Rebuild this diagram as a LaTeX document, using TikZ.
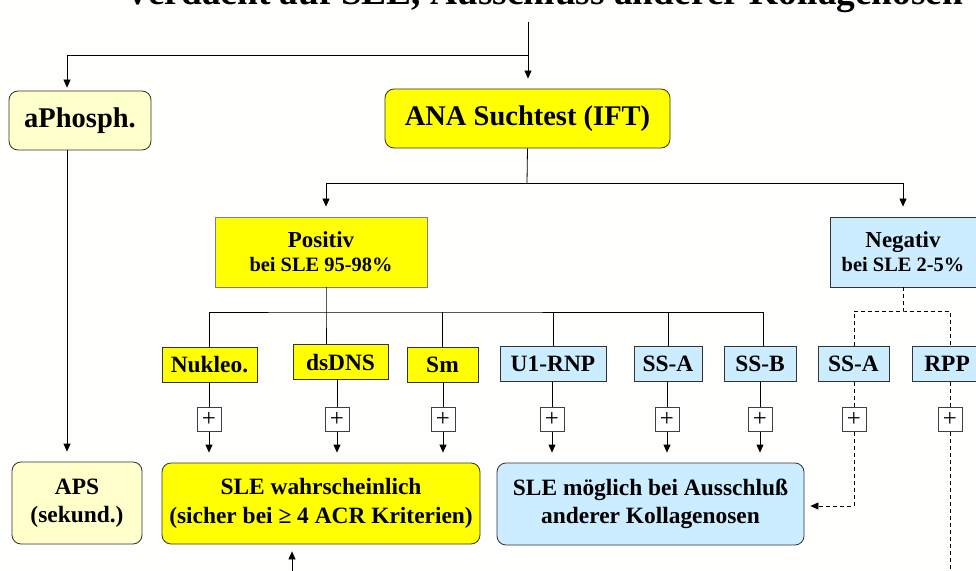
\documentclass[tikz,border=0pt]{standalone}
\usepackage{fontspec}
\setmainfont{Liberation Serif}
\usetikzlibrary{arrows.meta}

\definecolor{vollgelb}{HTML}{FFFF00}
\definecolor{hellgelb}{HTML}{FFFFCC}
\definecolor{hellblau}{HTML}{CCECFF}
\definecolor{papier}{HTML}{FEFEFC}

\newcommand\fgross{\fontsize{28.6}{32}\selectfont\bfseries}
\newcommand\fmittel{\fontsize{23.5}{28.5}\selectfont\bfseries}
\newcommand\fklein{\fontsize{20.5}{24}\selectfont\bfseries}

\tikzset{
  kasten/.style={draw=black!80, line width=0.8bp, inner sep=0pt, align=center},
  rkasten/.style={kasten, rounded corners=9bp},
  pluskasten/.style={draw=black!75, line width=0.8bp, fill=white,
    minimum width=24bp, minimum height=24bp, inner sep=0pt, font=\fontsize{25}{25}\selectfont},
  linie/.style={line width=0.8bp},
  pfeil/.style={line width=0.8bp, -{Triangle[length=8bp,width=7bp]}, shorten >=10bp},
  strich/.style={line width=0.8bp, dash pattern=on 4bp off 3bp},
}

\begin{document}
\begin{tikzpicture}[x=1bp,y=-1bp]
  \fill[papier] (0,0) rectangle (976,571);
  \useasboundingbox (0,0) rectangle (976,571);

  % Titel (oben abgeschnitten)
  \node[anchor=base, font=\fontsize{37.5}{40}\selectfont\bfseries] (titel) at (544,5)
    {Verdacht auf SLE, Ausschluss anderer Kollagenosen};

  % obere Ebene
  \node[rkasten, fill=hellgelb, minimum width=142bp, minimum height=59bp, font=\fgross]
    (aph) at (80,120.5) {aPhosph.};
  \node[rkasten, fill=vollgelb, minimum width=285bp, minimum height=59bp, font=\fgross]
    (ana) at (527.5,118.5) {ANA Suchtest (IFT)};
  \node[kasten, draw=black!50, fill=vollgelb, minimum width=212bp, minimum height=70bp, font=\fklein]
    (pos) at (321,252) {{\fontsize{23}{24}\selectfont Positiv}\\bei SLE 95-98\%};
  \node[kasten, fill=hellblau, minimum width=146bp, minimum height=70bp, font=\fklein]
    (neg) at (903,252) {{\fontsize{23}{24}\selectfont Negativ}\\bei SLE 2-5\%};

  % Antikoerper
  \foreach \name/\x/\y/\w/\farbe/\lbl in {
      nuk/209.5/364.5/95/vollgelb/Nukleo.,
      dsd/340.5/362/95/vollgelb/dsDNS,
      sm/442.5/364.5/71/vollgelb/Sm,
      uone/553/364/106/hellblau/U1-RNP,
      ssa/668/364/68/hellblau/SS-A,
      ssb/760/364/72/hellblau/SS-B,
      ssaz/853.5/364/71/hellblau/SS-A,
      rpp/950/364/76/hellblau/RPP
    } {
      \node[kasten, fill=\farbe, minimum width=\w bp, minimum height=35bp, font=\fmittel]
        (\name) at (\x,\y) {\lbl};
    }

  % Plus-Kaestchen
  \foreach \name/\x in {nuk/209, dsd/337, sm/443, uone/552, ssa/667, ssb/760, ssaz/854, rpp/950}
    \node[pluskasten] (p\name) at (\x,419.5) {+};

  % Ergebnisse
  \node[rkasten, fill=hellgelb, minimum width=130bp, minimum height=82bp, font=\fmittel]
    (aps) at (77,503) {APS\\(sekund.)};
  \node[rkasten, fill=vollgelb, minimum width=318bp, minimum height=81bp, font=\fmittel]
    (slew) at (321,503.5) {SLE wahrscheinlich\\(sicher bei ≥ 4 ACR Kriterien)};
  \node[rkasten, fill=hellblau, minimum width=307bp, minimum height=82bp, font=\fmittel]
    (slem) at (650.5,504) {SLE möglich bei Ausschluß\\anderer Kollagenosen};

  % Hilfspunkte
  \coordinate (oben) at (528,22);
  \coordinate (gabel) at (528,55);
  \coordinate (aphx) at (67,55);
  \coordinate (anab) at (527,183);
  \coordinate (pst) at (326,312);
  \coordinate (negb) at (903,311);
  \coordinate (rppende) at (950,580);
  \coordinate (von) at (292,580);

  % Verbindungen oben
  \draw[pfeil] (oben) -- (oben |- ana.north);
  \draw[pfeil, shorten >=3bp] (gabel) -- (aphx) -- (aphx |- aph.north);
  \draw[pfeil] (aphx |- aph.south) -- (aphx |- aps.north);
  \draw[linie] (ana.south) -- (anab);
  \draw[pfeil] (anab) -| (pst |- pos.north);
  \draw[pfeil] (anab) -| (neg.north);

  % Positiv-Zweig
  \draw[linie] (pst |- pos.south) -- (pst) -- (pst |- dsd.north);
  \draw[linie] (nuk.north) |- (pst) -| ([xshift=3bp]ssb.north);
  \foreach \name in {sm, uone, ssa}
    \draw[linie] (\name.north) -- (\name.north |- pst);

  % Negativ-Zweig
  \draw[strich] (neg.south) -- (negb);
  \draw[strich] (pssaz |- ssaz.north) |- (negb) -| (rpp.north);

  % Kaestchen -> Plus
  \foreach \name in {nuk, dsd, sm, uone, ssa, ssb}
    \draw[linie] (p\name |- \name.south) -- (p\name.north);
  \foreach \name in {ssaz, rpp}
    \draw[strich] (p\name |- \name.south) -- (p\name.north);

  % Plus -> Ergebnis
  \foreach \name in {nuk, dsd, sm}
    \draw[pfeil] (p\name.south) -- (p\name |- slew.north);
  \foreach \name in {uone, ssa, ssb}
    \draw[pfeil] (p\name.south) -- (p\name |- slem.north);
  \draw[strich, pfeil, shorten >=6bp] (pssaz.south) |- ([yshift=-2bp]slem.east);
  \draw[strich] (prpp.south) -- (rppende);
  \draw[pfeil, shorten >=7bp] (von) -- (von |- slew.south);
\end{tikzpicture}
\end{document}
